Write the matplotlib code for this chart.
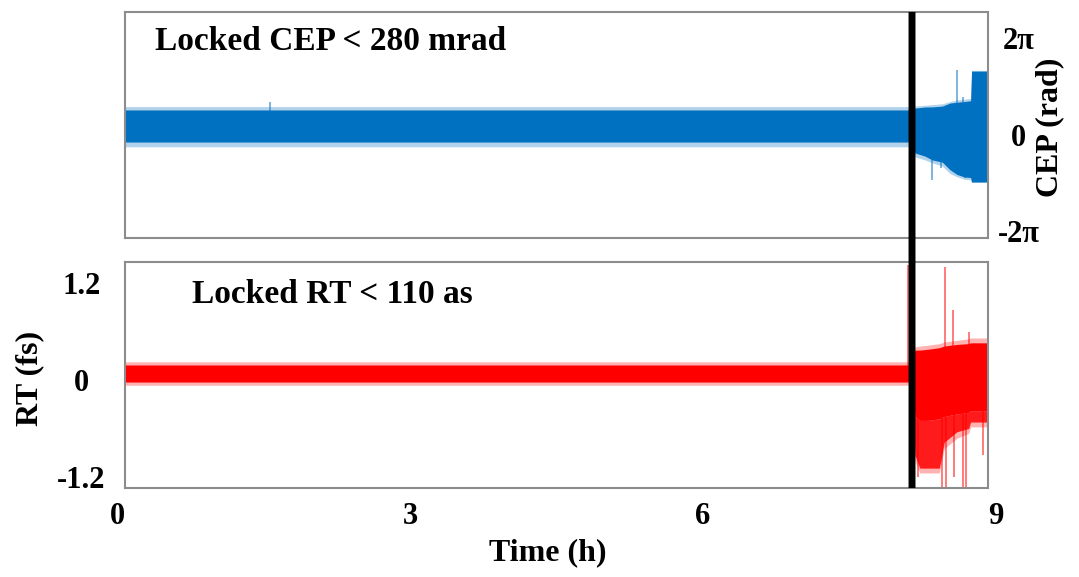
import numpy as np
import matplotlib
matplotlib.use('Agg')
import matplotlib.pyplot as plt
from matplotlib.patches import ConnectionPatch

plt.rcParams['font.family'] = ['Liberation Serif', 'DejaVu Serif']
plt.rcParams['font.weight'] = 'bold'

# lock lost at this time (h)
t_lock = 8.14

# CEP band envelope (rad)
cep_t = [0.08, 8.14, 8.17, 8.27, 8.35, 8.45, 8.53, 8.60, 8.68, 8.74, 8.75, 8.92]
cep_hi = [1.60, 1.60, 1.72, 1.79, 1.80, 1.85, 2.05, 2.10, 2.15, 2.20, 4.13, 4.13]
cep_lo = [-0.49, -0.49, -1.20, -1.40, -1.66, -1.80, -2.30, -2.60, -2.77, -2.80, -3.09, -3.09]
cep_hi_out = [1.82, 1.82, 1.85, 1.90, 1.95, 2.00, 2.15, 2.25, 2.30, 2.35, 4.18, 4.18]
cep_lo_out = [-0.80, -0.80, -1.45, -1.65, -1.85, -2.05, -2.55, -2.75, -2.92, -2.95, -3.12, -3.12]
cep_spike_t = [1.57, 8.34, 8.44, 8.60, 8.66, 8.68]
cep_spike_v = [2.10, -2.96, -2.2, 4.20, 2.44, -2.83]

# RT band envelope (fs)
rt_t = [0.08, 8.14, 8.17, 8.22, 8.30, 8.42, 8.47, 8.60, 8.72, 8.74, 8.92]
rt_hi = [0.186, 0.186, 0.37, 0.37, 0.38, 0.40, 0.42, 0.44, 0.45, 0.46, 0.46]
rt_mid = [-0.025, -0.025, -0.45, -0.50, -0.50, -0.48, -0.45, -0.42, -0.40, -0.38, -0.38]
rt_lo = [-0.025, -0.025, -0.93, -1.09, -1.09, -1.09, -0.77, -0.64, -0.60, -0.52, -0.52]
rt_hi_out = [0.225, 0.225, 0.41, 0.42, 0.43, 0.45, 0.47, 0.49, 0.51, 0.52, 0.52]
rt_lo_out = [-0.065, -0.065, -1.00, -1.15, -1.15, -1.15, -0.85, -0.72, -0.66, -0.58, -0.58]
rt_spike_t = [8.094, 8.477, 8.559, 8.723, 8.20, 8.447, 8.488, 8.57, 8.662, 8.692, 8.867]
rt_spike_v = [1.42, 1.40, 0.866, 0.594, -1.20, -1.40, -1.40, -1.20, -1.40, -1.40, -0.93]

blue = '#0070C0'
red = '#FF0000'
frame = '#8c8c8c'

W, H = 1079, 577
def box(l, t, r, b):
    return [l / W, 1 - b / H, (r - l) / W, (b - t) / H]

fig = plt.figure(figsize=(W / 100, H / 100), dpi=100)
ax1 = fig.add_axes(box(125, 12, 988, 238))
ax2 = fig.add_axes(box(125, 262, 988, 488))

# top: CEP
ax1.fill_between(cep_t, cep_lo_out, cep_hi_out, color=blue, alpha=0.3, lw=0)
ax1.fill_between(cep_t, cep_lo, cep_hi, color=blue, lw=0)
ax1.vlines(cep_spike_t, 0, cep_spike_v, color=blue, lw=1.2, alpha=0.6)
ax1.set_ylim(-6.74, 7.98)
ax1.set_yticks([2 * np.pi, 0, -2 * np.pi])
ax1.set_yticklabels(['2π', '0', '-2π'])
ax1.yaxis.tick_right()
ax1.tick_params(axis='y', length=0, pad=22, labelsize=22)
for lab in ax1.get_yticklabels():
    lab.set_horizontalalignment('center')

# bottom: RT
ax2.fill_between(rt_t, rt_lo_out, rt_hi_out, color=red, alpha=0.3, lw=0)
ax2.fill_between(rt_t, rt_lo, rt_mid, color=red, alpha=0.85, lw=0)
ax2.fill_between(rt_t, rt_mid, rt_hi, color=red, lw=0)
ax2.vlines(rt_spike_t, 0, rt_spike_v, color=red, lw=1.2, alpha=0.6)
ax2.set_ylim(-1.336, 1.46)
ax2.set_yticks([1.2, 0, -1.2])
ax2.set_yticklabels(['1.2', '0', '-1.2'])
ax2.tick_params(axis='y', length=0, pad=31.5, labelsize=22)
for lab in ax2.get_yticklabels():
    lab.set_horizontalalignment('center')

for ax in (ax1, ax2):
    ax.set_xlim(0.082, 8.918)
    ax.set_xticks([])
    for s in ax.spines.values():
        s.set_color(frame)
        s.set_linewidth(1.5)

# time tick labels sit on a slightly wider scale than the frames
axx = fig.add_axes(box(117, 488, 996, 489))
axx.set_xlim(0, 9)
axx.set_xticks([0, 3, 6, 9])
axx.set_yticks([])
axx.tick_params(axis='x', length=0, pad=9, labelsize=22)
axx.patch.set_visible(False)
for s in axx.spines.values():
    s.set_visible(False)

con = ConnectionPatch(xyA=(t_lock, 1), coordsA=ax1.get_xaxis_transform(),
                      xyB=(t_lock, 0), coordsB=ax2.get_xaxis_transform(),
                      color='black', lw=5, capstyle='butt')
fig.add_artist(con)

fig.text(155 / W, 1 - 50 / H, 'Locked CEP < 280 mrad', fontsize=24, va='baseline')
fig.text(192 / W, 1 - 303 / H, 'Locked RT < 110 as', fontsize=24, va='baseline')
fig.text(548 / W, 1 - 553 / H, 'Time (h)', fontsize=23, ha='center', va='center')
fig.text(30 / W, 1 - 378 / H, 'RT (fs)', fontsize=23, ha='center', va='center', rotation=90)
fig.text(1050 / W, 1 - 127 / H, 'CEP (rad)', fontsize=23, ha='center', va='center', rotation=90)

fig.savefig('out.png', dpi=100)
